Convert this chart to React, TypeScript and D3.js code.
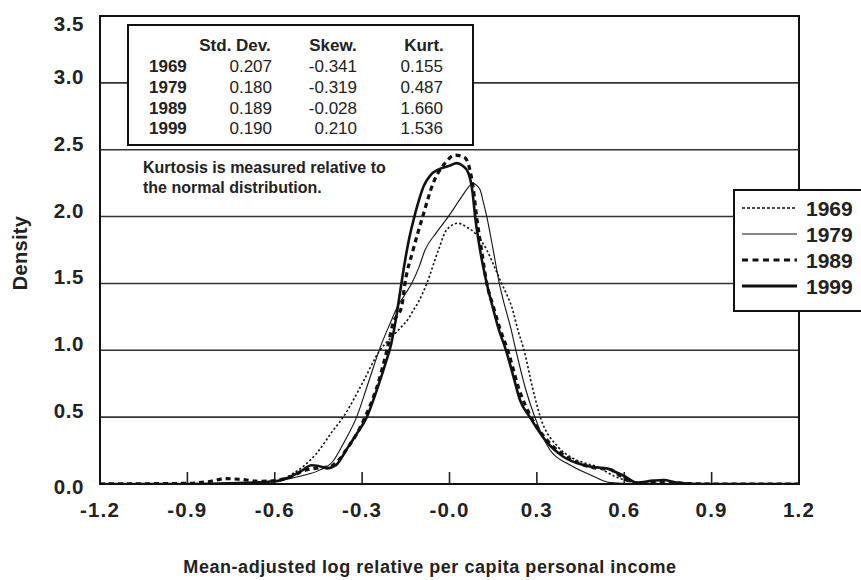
import React, { useRef, useEffect } from 'react';
import * as d3 from 'd3';

// table values
const years = ['1969', '1979', '1989', '1999'];
const stdDev = ['0.207', '0.180', '0.189', '0.190'];
const skew = ['-0.341', '-0.319', '-0.028', '0.210'];
const kurt = ['0.155', '0.487', '1.660', '1.536'];

const xTicks = [-1.2, -0.9, -0.6, -0.3, 0, 0.3, 0.6, 0.9, 1.2];
const xTickLabels = ['-1.2', '-0.9', '-0.6', '-0.3', '-0.0', '0.3', '0.6', '0.9', '1.2'];
const yTicks = [0, 0.5, 1.0, 1.5, 2.0, 2.5, 3.0, 3.5];

// density curves, [x, density]
const d1969: [number, number][] = [
  [-1.2, 0], [-0.9, 0], [-0.7, 0.005], [-0.6, 0.02], [-0.536, 0.08], [-0.456, 0.23],
  [-0.4, 0.4], [-0.365, 0.5], [-0.3, 0.75], [-0.239, 1.0], [-0.198, 1.1], [-0.17, 1.164],
  [-0.14, 1.24], [-0.124, 1.3], [-0.107, 1.36], [-0.078, 1.5], [-0.038, 1.75], [-0.01, 1.9],
  [0.03, 1.95], [0.06, 1.92], [0.088, 1.875], [0.128, 1.75], [0.155, 1.62], [0.179, 1.5],
  [0.2, 1.4], [0.213, 1.33], [0.235, 1.15], [0.256, 1.0], [0.285, 0.72], [0.312, 0.5],
  [0.372, 0.279], [0.414, 0.204], [0.46, 0.16], [0.505, 0.13], [0.574, 0.05], [0.643, 0.01],
  [0.7, 0.003], [1.2, 0],
];

const d1979: [number, number][] = [
  [-1.2, 0], [-0.9, 0], [-0.7, 0.01], [-0.6, 0.02], [-0.55, 0.04], [-0.5, 0.065],
  [-0.45, 0.1], [-0.4, 0.17], [-0.36, 0.32], [-0.319, 0.5], [-0.28, 0.75], [-0.233, 1.05],
  [-0.204, 1.2], [-0.18, 1.32], [-0.155, 1.41], [-0.13, 1.5], [-0.105, 1.62], [-0.084, 1.75],
  [-0.045, 1.88], [-0.004, 2.0], [0.042, 2.149], [0.065, 2.22], [0.079, 2.25], [0.095, 2.23],
  [0.105, 2.2], [0.117, 2.1], [0.128, 2.0], [0.15, 1.75], [0.171, 1.5], [0.19, 1.33],
  [0.21, 1.17], [0.228, 1.0], [0.26, 0.72], [0.293, 0.5], [0.345, 0.254], [0.414, 0.142],
  [0.482, 0.07], [0.551, 0.01], [0.6, 0.005], [0.7, 0], [1.2, 0],
];

const d1989: [number, number][] = [
  [-1.2, 0], [-0.9, 0.005], [-0.82, 0.02], [-0.77, 0.04], [-0.72, 0.035], [-0.65, 0.02],
  [-0.6, 0.025], [-0.55, 0.05], [-0.5, 0.1], [-0.45, 0.12], [-0.41, 0.13], [-0.38, 0.18],
  [-0.35, 0.27], [-0.32, 0.37], [-0.29, 0.5], [-0.25, 0.72], [-0.215, 1.0], [-0.194, 1.2],
  [-0.164, 1.33], [-0.153, 1.5], [-0.125, 1.75], [-0.092, 2.0], [-0.056, 2.25], [-0.015, 2.4],
  [0.019, 2.46], [0.053, 2.44], [0.07, 2.35], [0.081, 2.22], [0.093, 2.0], [0.11, 1.75],
  [0.128, 1.5], [0.15, 1.33], [0.175, 1.15], [0.2, 1.0], [0.24, 0.7], [0.28, 0.5],
  [0.33, 0.34], [0.39, 0.22], [0.45, 0.15], [0.5, 0.12], [0.55, 0.11], [0.58, 0.07],
  [0.62, 0.02], [0.66, 0.005], [0.7, 0.01], [0.75, 0.015], [0.8, 0.005], [0.9, 0], [1.2, 0],
];

const d1999: [number, number][] = [
  [-1.2, 0], [-0.9, 0], [-0.75, 0.005], [-0.6, 0.02], [-0.55, 0.05], [-0.5, 0.11],
  [-0.475, 0.14], [-0.45, 0.135], [-0.42, 0.117], [-0.39, 0.14], [-0.35, 0.27], [-0.32, 0.37],
  [-0.284, 0.5], [-0.25, 0.7], [-0.22, 0.9], [-0.2, 1.05], [-0.185, 1.22], [-0.17, 1.43],
  [-0.155, 1.64], [-0.14, 1.82], [-0.124, 1.97], [-0.108, 2.1], [-0.088, 2.23], [-0.065, 2.31],
  [-0.04, 2.35], [0.0, 2.38], [0.025, 2.4], [0.045, 2.38], [0.064, 2.33], [0.078, 2.2],
  [0.088, 2.0], [0.105, 1.75], [0.128, 1.5], [0.145, 1.35], [0.17, 1.15], [0.194, 1.0],
  [0.22, 0.8], [0.242, 0.628], [0.276, 0.5], [0.328, 0.33], [0.391, 0.204], [0.459, 0.142],
  [0.5, 0.125], [0.54, 0.117], [0.57, 0.09], [0.6, 0.06], [0.643, 0.01], [0.7, 0.025],
  [0.735, 0.03], [0.78, 0.01], [0.85, 0], [1.2, 0],
];

const seriesData = [d1969, d1979, d1989, d1999];

const FONT = "'Liberation Sans', Arial, Helvetica, sans-serif";

const Chart = () => {
  const ref = useRef<SVGSVGElement>(null);

  useEffect(() => {
    const root = d3.select(ref.current);
    root.selectAll('*').remove();

    const margin = { top: 16, left: 100 };
    const width = 699;
    const height = 468;

    const svg = root
      .attr('width', 861)
      .attr('height', 580)
      .style('font-family', FONT)
      .append('g')
      .attr('transform', `translate(${margin.left},${margin.top})`);

    const x = d3.scaleLinear().domain([-1.2, 1.2]).range([0, width]);
    const y = d3.scaleLinear().domain([0, 3.5]).range([height, 0]);

    // gridlines
    svg
      .append('g')
      .selectAll('line')
      .data(yTicks.slice(1, -1))
      .enter()
      .append('line')
      .attr('x1', 0)
      .attr('x2', width)
      .attr('y1', (d) => y(d))
      .attr('y2', (d) => y(d))
      .attr('stroke', '#333')
      .attr('stroke-width', 1.6);

    // x ticks, pointing inward
    svg
      .append('g')
      .selectAll('line')
      .data(xTicks.slice(1, -1))
      .enter()
      .append('line')
      .attr('x1', (d) => x(d))
      .attr('x2', (d) => x(d))
      .attr('y1', height)
      .attr('y2', height - 12)
      .attr('stroke', '#222')
      .attr('stroke-width', 1.6);

    // curves
    svg
      .append('clipPath')
      .attr('id', 'plotclip')
      .append('rect')
      .attr('width', width)
      .attr('height', height);

    const line = d3
      .line<[number, number]>()
      .x((d) => x(d[0]))
      .y((d) => y(d[1]))
      .curve(d3.curveMonotoneX);

    const styles = [
      { w: 1.6, dash: '2.2,2.2' },
      { w: 1.1, dash: null },
      { w: 3.2, dash: '5,4' },
      { w: 2.6, dash: null },
    ];

    svg
      .append('g')
      .attr('clip-path', 'url(#plotclip)')
      .selectAll('path')
      .data(seriesData)
      .enter()
      .append('path')
      .attr('d', (d) => line(d))
      .attr('fill', 'none')
      .attr('stroke', '#111')
      .attr('stroke-width', (d, i) => styles[i].w)
      .attr('stroke-dasharray', (d, i) => styles[i].dash);

    // plot frame
    svg
      .append('rect')
      .attr('width', width)
      .attr('height', height)
      .attr('fill', 'none')
      .attr('stroke', '#111')
      .attr('stroke-width', 2);

    // y tick labels
    const yBase = (v: number) => (v === 0 ? 10 : v === 3.5 ? 15 : 1);
    svg
      .append('g')
      .selectAll('text')
      .data(yTicks)
      .enter()
      .append('text')
      .attr('x', -16)
      .attr('y', (d) => y(d) + yBase(d))
      .attr('text-anchor', 'end')
      .attr('font-size', 20.5)
      .attr('font-weight', 'bold')
      .attr('letter-spacing', 0.6)
      .attr('fill', '#222')
      .text((d) => d.toFixed(1));

    // x tick labels
    svg
      .append('g')
      .selectAll('text')
      .data(xTicks)
      .enter()
      .append('text')
      .attr('x', (d) => x(d))
      .attr('y', height + 33)
      .attr('text-anchor', 'middle')
      .attr('font-size', 20.5)
      .attr('font-weight', 'bold')
      .attr('letter-spacing', 1.2)
      .attr('fill', '#222')
      .text((d, i) => xTickLabels[i]);

    // axis titles
    svg
      .append('text')
      .attr('x', 330)
      .attr('y', height + 89)
      .attr('text-anchor', 'middle')
      .attr('font-size', 18)
      .attr('font-weight', 'bold')
      .attr('letter-spacing', 0.55)
      .attr('fill', '#222')
      .text('Mean-adjusted log relative per capita personal income');

    svg
      .append('text')
      .attr('transform', `translate(${-73},${237}) rotate(-90)`)
      .attr('text-anchor', 'middle')
      .attr('font-size', 20)
      .attr('font-weight', 'bold')
      .attr('letter-spacing', 0.3)
      .attr('fill', '#222')
      .text('Density');

    // stats table
    const tbl = root.append('g').attr('transform', 'translate(128,25)');
    tbl
      .append('rect')
      .attr('width', 345)
      .attr('height', 120)
      .attr('fill', '#fff')
      .attr('stroke', '#111')
      .attr('stroke-width', 2);

    const headers = [
      { t: 'Std. Dev.', x: 107 },
      { t: 'Skew.', x: 205 },
      { t: 'Kurt.', x: 296 },
    ];
    tbl
      .selectAll('text.h')
      .data(headers)
      .enter()
      .append('text')
      .attr('x', (d) => d.x)
      .attr('y', 26)
      .attr('text-anchor', 'middle')
      .attr('font-size', 17)
      .attr('font-weight', 'bold')
      .attr('fill', '#222')
      .text((d) => d.t);

    const rowY = (i: number) => 47 + i * 20.8;
    const cols = [
      { vals: stdDev, x: 144 },
      { vals: skew, x: 229 },
      { vals: kurt, x: 315 },
    ];
    years.forEach((yr, i) => {
      tbl
        .append('text')
        .attr('x', 21)
        .attr('y', rowY(i))
        .attr('font-size', 17)
        .attr('font-weight', 'bold')
        .attr('fill', '#222')
        .text(yr);
      cols.forEach((c) => {
        tbl
          .append('text')
          .attr('x', c.x)
          .attr('y', rowY(i))
          .attr('text-anchor', 'end')
          .attr('font-size', 17)
          .attr('fill', '#222')
          .text(c.vals[i]);
      });
    });

    // note
    const note = root.append('g').attr('font-size', 16).attr('font-weight', 'bold').attr('fill', '#222');
    note.append('text').attr('x', 143).attr('y', 173).text('Kurtosis is measured relative to');
    note.append('text').attr('x', 143).attr('y', 193).text('the normal distribution.');

    // legend
    const leg = root.append('g').attr('transform', 'translate(734,190)');
    leg
      .append('rect')
      .attr('width', 140)
      .attr('height', 121)
      .attr('fill', '#fff')
      .attr('stroke', '#111')
      .attr('stroke-width', 2);
    const legStyles = [
      { w: 1.6, dash: '3,2' },
      { w: 1.2, dash: null },
      { w: 3, dash: '6,4.5' },
      { w: 3, dash: null },
    ];
    years.forEach((yr, i) => {
      const ly = 18 + i * 26;
      leg
        .append('line')
        .attr('x1', 8)
        .attr('x2', 63)
        .attr('y1', ly)
        .attr('y2', ly)
        .attr('stroke', '#111')
        .attr('stroke-width', legStyles[i].w)
        .attr('stroke-dasharray', legStyles[i].dash);
      leg
        .append('text')
        .attr('x', 72)
        .attr('y', ly + 8)
        .attr('font-size', 21)
        .attr('font-weight', 'bold')
        .attr('fill', '#222')
        .text(yr);
    });
  }, []);

  return <svg ref={ref} style={{ position: 'absolute', left: 0, top: 0 }}></svg>;
};

export default function App() {
  return <Chart />;
}
